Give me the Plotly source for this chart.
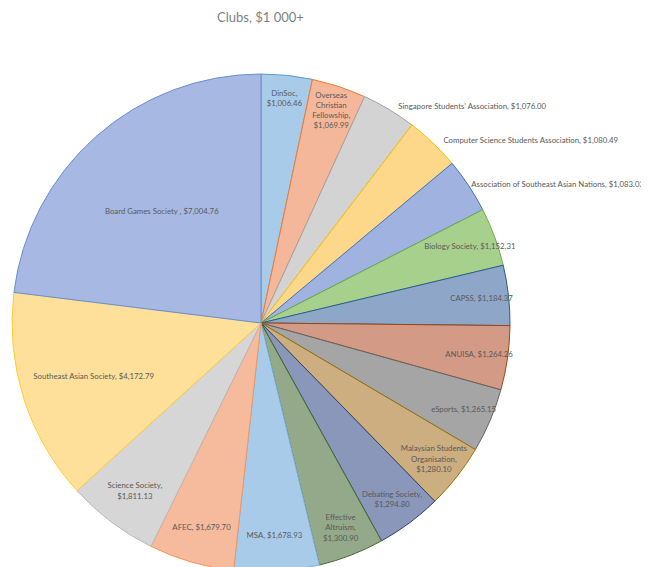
import plotly.graph_objects as go

clubs = [
    "DinSoc", "Overseas Christian Fellowship", "Singapore Students' Association",
    "Computer Science Students Association", "Association of Southeast Asian Nations",
    "Biology Society", "CAPSS", "ANUISA", "eSports", "Malaysian Students Organisation",
    "Debating Society", "Effective Altruism", "MSA", "AFEC", "Science Society",
    "Southeast Asian Society", "Board Games Society ",
]
amounts = [
    1006.46, 1069.99, 1076.00, 1080.49, 1083.03, 1152.31, 1184.37, 1264.26,
    1265.15, 1280.10, 1294.80, 1300.90, 1678.93, 1679.70, 1811.13, 4172.79, 7004.76,
]
# label wrapping as displayed in the chart
wrapped = [
    "DinSoc,", "Overseas<br>Christian<br>Fellowship,", "Singapore Students' Association,",
    "Computer Science Students Association,", "Association of Southeast Asian Nations,",
    "Biology Society,", "CAPSS,", "ANUISA,", "eSports,", "Malaysian Students<br>Organisation,",
    "Debating Society,", "Effective<br>Altruism,", "MSA,", "AFEC,", "Science Society,",
    "Southeast Asian Society,", "Board Games Society ,",
]
breaks = ["<br>", "<br>", " ", " ", " ", " ", " ", " ", " ", "<br>", "<br>", "<br>", " ", " ", "<br>", " ", " "]
positions = ["inside", "inside", "outside", "outside", "outside"] + ["inside"] * 12
label_sizes = [8.5, 8.5, 8.5, 8.5, 7.8] + [8.5] * 12

fills = [
    "#A9CBEA", "#F4B79A", "#D3D3D3", "#FDD88A", "#9FB2E0", "#A8D08D", "#8EA7C8", "#D39A86",
    "#A5A5A5", "#CDAE80", "#8B96BB", "#93A98A", "#A9CBEA", "#F6BB9D", "#D6D6D6", "#FEE09A", "#A7B9E2",
]
edges = [
    "#5B9BD5", "#ED7D31", "#A5A5A5", "#FFC000", "#4472C4", "#70AD47", "#255E91", "#9E480E",
    "#636363", "#997300", "#264478", "#43682B", "#7CAFDD", "#F1975A", "#B7B7B7", "#FFCD33", "#698ED0",
]

texts = [f"{w}{b}${v:,.2f}" for w, b, v in zip(wrapped, breaks, amounts)]

fig = go.Figure(go.Pie(
    labels=clubs,
    values=amounts,
    text=texts,
    textinfo="text",
    textposition=positions,
    insidetextorientation="horizontal",
    sort=False,
    direction="clockwise",
    rotation=0,
    automargin=False,
    marker=dict(colors=fills, line=dict(color=edges, width=1)),
    textfont=dict(family="Lato", size=label_sizes, color="#595959"),
    showlegend=False,
    hoverinfo="label+value",
    domain=dict(x=[0.0062, 0.7735], y=[0.006, 1]),
))

fig.update_layout(
    width=649, height=567,
    margin=dict(l=0, r=0, t=66, b=0, autoexpand=False),
    paper_bgcolor="white",
    uniformtext=dict(minsize=7.8, mode="show"),
    title=dict(text="Clubs, $1 000+", x=0.389, xanchor="center", y=0.984, yanchor="middle",
               font=dict(family="Lato", size=13, color="#7F7F7F")),
)

fig.write_html("out.html")
